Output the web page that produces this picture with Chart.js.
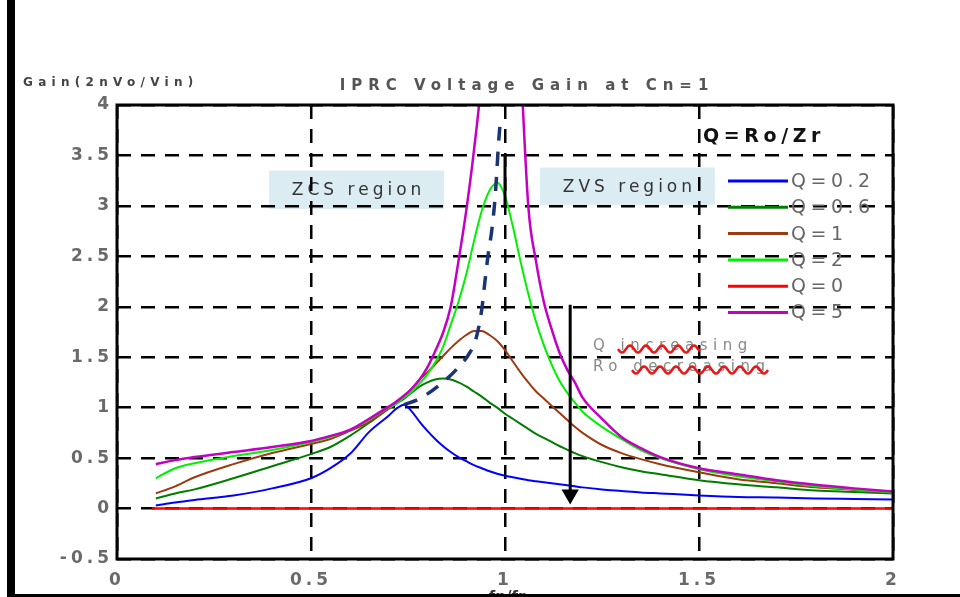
<!DOCTYPE html>
<html>
<head>
<meta charset="utf-8">
<title>IPRC Voltage Gain at Cn=1</title>
<script src="https://cdn.jsdelivr.net/npm/chart.js@4.4.1/dist/chart.umd.min.js"></script>
<style>
    body { margin: 0; background: #fff; }
    #gain-chart { display: block; }
</style>
</head>
<body>
<canvas id="gain-chart" width="960" height="597"></canvas>
<script>
// normalised frequency fn/fr shared by the Q curves
const fn = [0.1, 0.15, 0.2, 0.3, 0.4, 0.5, 0.55, 0.6, 0.65, 0.7,
            0.72, 0.74, 0.76, 0.78, 0.8, 0.82, 0.84, 0.86, 0.88, 0.9,
            0.92, 0.94, 0.96, 0.98, 1.0, 1.02, 1.04, 1.06, 1.08, 1.1,
            1.12, 1.14, 1.16, 1.18, 1.2, 1.25, 1.3, 1.35, 1.4, 1.5,
            1.6, 1.7, 1.8, 1.9, 2.0]

const gain_q02 = [0.03, 0.06, 0.085, 0.13, 0.20, 0.30, 0.40, 0.54, 0.76, 0.92,
                  0.99, 1.03, 0.96, 0.86, 0.77, 0.69, 0.62, 0.56, 0.51, 0.47,
                  0.43, 0.40, 0.37, 0.345, 0.325, 0.31, 0.295, 0.28, 0.27, 0.26,
                  0.25, 0.24, 0.23, 0.22, 0.21, 0.19, 0.175, 0.16, 0.15, 0.13,
                  0.115, 0.11, 0.10, 0.095, 0.09]

const gain_q06 = [0.10, 0.15, 0.19, 0.30, 0.42, 0.54, 0.61, 0.72, 0.85, 0.99,
                  1.04, 1.09, 1.15, 1.21, 1.25, 1.28, 1.29, 1.28, 1.25, 1.21,
                  1.16, 1.11, 1.05, 1.00, 0.94, 0.89, 0.84, 0.79, 0.74, 0.70,
                  0.66, 0.62, 0.585, 0.55, 0.52, 0.46, 0.41, 0.37, 0.34, 0.28,
                  0.24, 0.21, 0.18, 0.165, 0.15]

const gain_q1 = [0.15, 0.22, 0.31, 0.44, 0.55, 0.64, 0.69, 0.77, 0.86, 0.99,
                 1.05, 1.11, 1.19, 1.28, 1.35, 1.43, 1.51, 1.59, 1.66, 1.72,
                 1.76, 1.76, 1.72, 1.66, 1.57, 1.46, 1.35, 1.25, 1.16, 1.09,
                 1.02, 0.95, 0.88, 0.81, 0.75, 0.63, 0.55, 0.49, 0.44, 0.36,
                 0.29, 0.25, 0.21, 0.185, 0.16]

const gain_q2 = [0.30, 0.40, 0.45, 0.52, 0.58, 0.66, 0.71, 0.78, 0.88, 1.00,
                 1.04, 1.10, 1.16, 1.24, 1.33, 1.45, 1.60, 1.82, 2.05, 2.32,
                 2.65, 2.95, 3.15, 3.23, 3.10, 2.80, 2.45, 2.13, 1.85, 1.62,
                 1.43, 1.27, 1.15, 1.05, 0.96, 0.81, 0.69, 0.58, 0.50, 0.39,
                 0.32, 0.27, 0.22, 0.19, 0.16]

const gain_q5 = [0.44, 0.48, 0.51, 0.56, 0.61, 0.67, 0.72, 0.78, 0.89, 1.01,
                 1.06, 1.12, 1.19, 1.28, 1.40, 1.56, 1.74, 2.00, 2.45, 2.95,
                 3.55, 4.30, 5.60, 7.50, 8.50, 6.50, 4.50, 3.00, 2.45, 2.05,
                 1.78, 1.55, 1.38, 1.25, 1.10, 0.89, 0.71, 0.60, 0.51, 0.40,
                 0.34, 0.28, 0.235, 0.20, 0.17]

const q0_fn = [0.09, 2.0]
const gain_q0 = [0, 0]

// dashed "Q increasing" locus through the peaks
const locus_fn = [0.74, 0.78, 0.83, 0.88, 0.91, 0.925, 0.94, 0.948, 0.956, 0.966, 0.974, 0.979, 0.983, 0.988]
const locus_gain = [1.03, 1.09, 1.22, 1.40, 1.55, 1.68, 1.97, 2.24, 2.50, 2.76, 3.06, 3.34, 3.60, 3.85]

// "Ro decreasing" arrow and the short solid mark at fn=1
const arrow_fn = [1.168, 1.168]
const arrow_gain = [2.02, 0.14]
const mark_fn = [1.0, 1.0]
const mark_gain = [3.5, 2.98]

const x_ticks = [0, 0.5, 1, 1.5, 2]
const y_ticks = [-0.5, 0, 0.5, 1, 1.5, 2, 2.5, 3, 3.5, 4]
const q_labels = ['Q=0.2', 'Q=0.6', 'Q=1', 'Q=2', 'Q=0', 'Q=5']

function points(xs, ys){
    return xs.map((x, i) => ({x: x, y: ys[i]}))
}

function drawText(ctx, text, x, y, font, color, spacing, align){
    ctx.save()
    ctx.font = font
    ctx.fillStyle = color
    ctx.letterSpacing = spacing
    ctx.textAlign = align
    ctx.textBaseline = 'middle'
    ctx.fillText(text, x, y)
    ctx.restore()
}

// red spell-check wave under a word
function squiggle(ctx, x0, x1, y){
    ctx.save()
    ctx.strokeStyle = '#e81818'
    ctx.lineWidth = 2.5
    ctx.beginPath()
    ctx.moveTo(x0, y)
    for(let x = x0; x <= x1; x += 1){
        ctx.lineTo(x, y + 3.5 * Math.sin((x - x0) / 16 * 2 * Math.PI))
    }
    ctx.stroke()
    ctx.restore()
}

const regions = [
    {text: 'ZCS region', x0: 0.392, x1: 0.843, y0: 3.35, y1: 2.97},
    {text: 'ZVS region', x0: 1.09, x1: 1.541, y0: 3.38, y1: 3.01},
]

const decor = {
    id: 'decor',
    beforeDraw(chart){
        const ctx = chart.ctx
        const sx = chart.scales.x
        const sy = chart.scales.y
        ctx.save()
        ctx.fillStyle = '#fff'
        ctx.fillRect(0, 0, chart.width, chart.height)
        for(const r of regions){
            const l = sx.getPixelForValue(r.x0)
            const rr = sx.getPixelForValue(r.x1)
            const t = sy.getPixelForValue(r.y0)
            const b = sy.getPixelForValue(r.y1)
            ctx.fillStyle = '#dbecf2'
            ctx.fillRect(l, t, rr - l, b - t)
            drawText(ctx, r.text, (l + rr) / 2 + 2, (t + b) / 2 + 1, '17px "DejaVu Sans"', '#333', '4px', 'center')
        }
        ctx.restore()
        // wide spacing for the tick labels drawn next
        ctx.letterSpacing = '4px'
    },
    afterDraw(chart){
        const ctx = chart.ctx
        const area = chart.chartArea
        ctx.save()
        ctx.letterSpacing = '0px'
        ctx.setLineDash([])
        ctx.strokeStyle = '#000'
        ctx.lineWidth = 3
        ctx.strokeRect(area.left, area.top, area.right - area.left, area.bottom - area.top)

        drawText(ctx, 'IPRC Voltage Gain at Cn=1', 527, 86, 'bold 15px "DejaVu Sans"', '#555', '6px', 'center')
        drawText(ctx, 'Gain(2nVo/Vin)', 23, 83, 'bold 12px "DejaVu Sans"', '#444', '5.3px', 'left')
        drawText(ctx, 'Q=Ro/Zr', 703, 137, 'bold 19px "DejaVu Sans"', '#111', '4.6px', 'left')

        let row = 0
        for(const ds of chart.data.datasets){
            if(!ds.in_key) continue
            const y = 181 + row * 26.3
            ctx.strokeStyle = ds.borderColor
            ctx.lineWidth = 3
            ctx.beginPath()
            ctx.moveTo(728, y)
            ctx.lineTo(788, y)
            ctx.stroke()
            drawText(ctx, ds.label, 791, y + 1, '19px "DejaVu Sans"', '#666', '4.5px', 'left')
            row++
        }

        drawText(ctx, 'Q increasing', 593, 346, '15px "DejaVu Sans"', '#888', '5.5px', 'left')
        drawText(ctx, 'Ro decreasing', 593, 367, '15px "DejaVu Sans"', '#888', '5.5px', 'left')
        squiggle(ctx, 618, 700, 349)
        squiggle(ctx, 632, 768, 370)

        ctx.font = 'bold 15px "DejaVu Sans"'
        ctx.fillStyle = '#333'
        ctx.textAlign = 'center'
        ctx.textBaseline = 'top'
        ctx.fillText('fn/fr', 507, 591)

        // outer frame of the figure
        ctx.fillStyle = '#000'
        ctx.fillRect(7, 0, 8, 597)
        ctx.fillRect(7, 594, 953, 3)
        ctx.restore()
    }
}

const tick_font = {family: '"DejaVu Sans"', size: 17, weight: 'bold'}

const data = {
    datasets: [
        {label: q_labels[0], in_key: true, data: points(fn, gain_q02), borderColor: '#0000ff', borderWidth: 2, order: 6},
        {label: q_labels[1], in_key: true, data: points(fn, gain_q06), borderColor: '#007c00', borderWidth: 2, order: 5},
        {label: q_labels[2], in_key: true, data: points(fn, gain_q1), borderColor: '#9c3a10', borderWidth: 2, order: 4},
        {label: q_labels[3], in_key: true, data: points(fn, gain_q2), borderColor: '#00f000', borderWidth: 2, order: 3},
        {label: q_labels[4], in_key: true, data: points(q0_fn, gain_q0), borderColor: '#ff0000', borderWidth: 2.5, order: 2},
        {label: q_labels[5], in_key: true, data: points(fn, gain_q5), borderColor: '#c400c4', borderWidth: 2.5, order: 1},
        {label: '', data: points(locus_fn, locus_gain), borderColor: '#1b3473', borderWidth: 3.5, borderDash: [14, 11], order: 0},
        {label: '', data: points(mark_fn, mark_gain), borderColor: '#000', borderWidth: 3, order: 0},
        {
            label: '',
            data: points(arrow_fn, arrow_gain),
            borderColor: '#000',
            borderWidth: 3,
            pointRadius: [0, 7],
            pointStyle: 'triangle',
            pointRotation: 180,
            pointBackgroundColor: '#000',
            pointBorderColor: '#000',
            order: 0,
        },
    ]
}

const config = {
    type: 'line',
    data: data,
    options: {
        responsive: false,
        animation: false,
        layout: {padding: {top: 105, right: 67, bottom: 0, left: 0}},
        elements: {
            point: {radius: 0},
            line: {cubicInterpolationMode: 'monotone'}
        },
        plugins: {
            legend: {display: false},
            tooltip: {enabled: false},
            title: {display: false}
        },
        scales: {
            x: {
                type: 'linear',
                min: 0,
                max: 2,
                afterBuildTicks: scale => { scale.ticks = x_ticks.map(v => ({value: v})) },
                afterFit: scale => { scale.height = 38 },
                ticks: {color: '#6a6a6a', font: tick_font, padding: 11, autoSkip: false, maxRotation: 0,
                        callback: value => String(value)},
                grid: {color: '#000', lineWidth: 2.5, drawTicks: false},
                border: {display: false, dash: [14, 10]}
            },
            y: {
                min: -0.5,
                max: 4,
                afterBuildTicks: scale => { scale.ticks = y_ticks.map(v => ({value: v})) },
                afterFit: scale => { scale.width = 117 },
                ticks: {color: '#6a6a6a', font: tick_font, padding: 4, autoSkip: false,
                        callback: value => String(value)},
                grid: {color: '#000', lineWidth: 2.5, drawTicks: false},
                border: {display: false, dash: [14, 10]}
            }
        }
    },
    plugins: [decor]
}

const gain_chart = new Chart(document.getElementById('gain-chart').getContext('2d'), config)
</script>
</body>
</html>
